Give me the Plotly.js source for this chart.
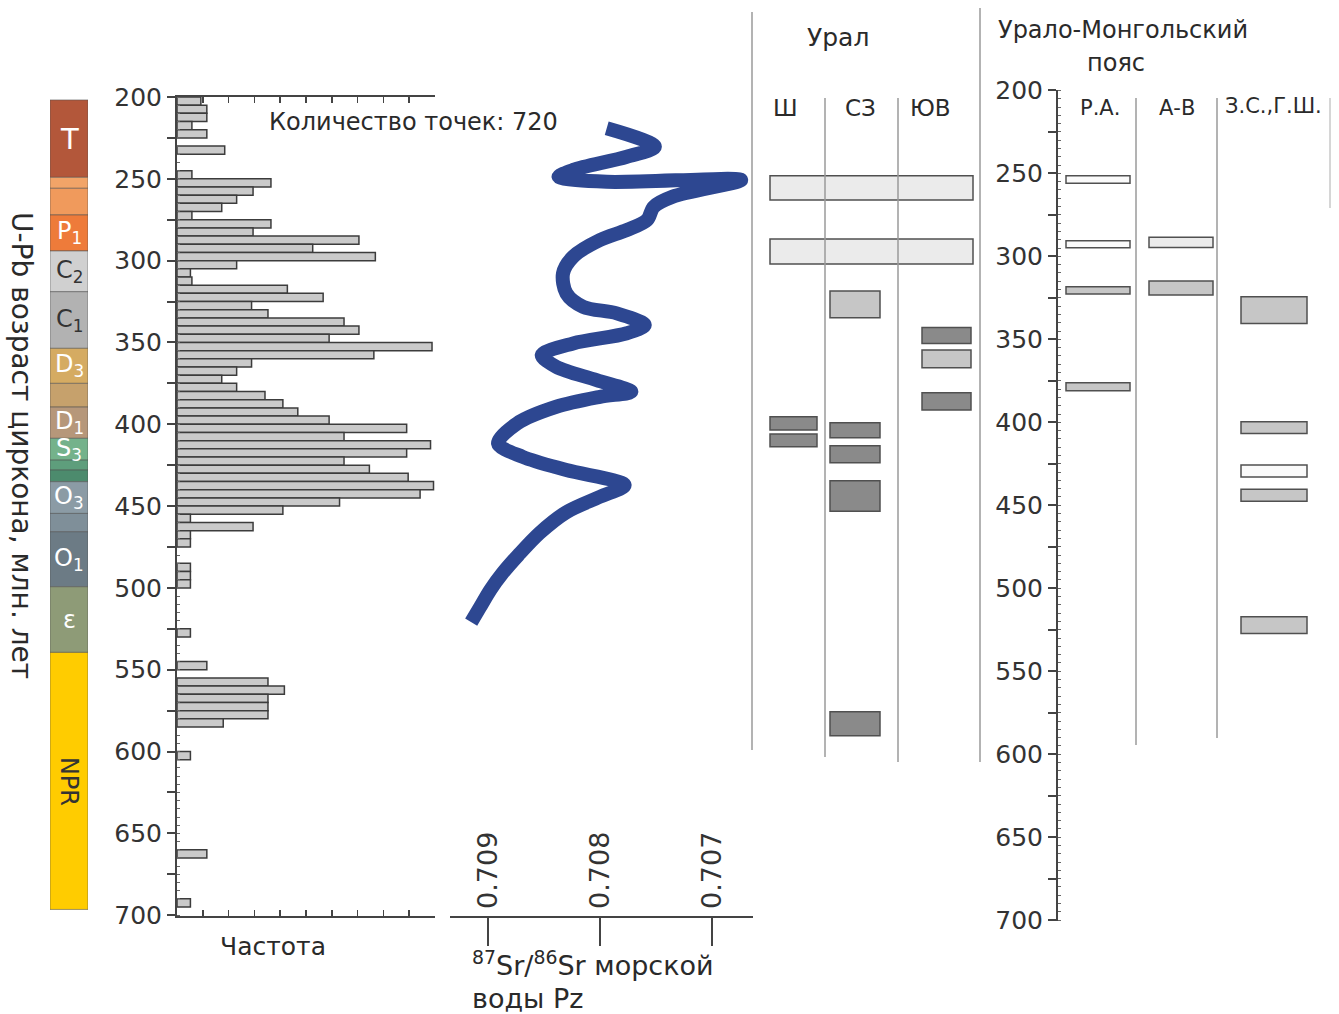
<!DOCTYPE html>
<html><head><meta charset="utf-8">
<script src="https://cdn.plot.ly/plotly-3.0.1.min.js"></script>
<style>html,body{margin:0;padding:0;background:#fff}#chart{width:1339px;height:1014px}</style>
</head><body><div id="chart"></div>
<script>
// ---------- DATA ----------
// Histogram of U-Pb zircon ages (5 Ma bins, bin start age) and frequency
const histAge = [200,205,210,215,220,230,245,250,255,260,265,270,275,280,285,290,295,300,305,310,315,320,325,330,335,340,345,350,355,360,365,370,375,380,385,390,395,400,405,410,415,420,425,430,435,440,445,450,455,460,465,470,485,490,495,525,545,555,560,565,570,575,580,600,660,690];
const histFreq = [1.6,2.0,2.0,1.0,2.0,3.2,1.0,6.3,5.1,4.0,3.0,1.0,6.3,5.1,12.2,9.1,13.3,4.0,0.9,1.0,7.4,9.8,5.0,6.1,11.2,12.2,10.2,17.1,13.2,5.0,4.0,3.0,4.0,5.9,7.1,8.1,10.2,15.4,11.2,17.0,15.4,11.2,12.9,15.5,17.2,16.3,10.9,7.1,0.9,5.1,0.9,0.9,0.9,0.9,0.9,0.9,2.0,6.1,7.2,6.1,6.1,6.1,3.1,0.9,2.0,0.9];
const histBin = 5;
const pointCount = 720;

// Stratigraphic column (age of top / bottom of each band, label)
const stratTop    = [201.8,249.1,255.8,272.1,294.1,319.0,353.6,375.0,389.5,408.6,421.9,428.0,435.1,454.5,465.7,499.3,539.4];
const stratBottom = [249.1,255.8,272.1,294.1,319.0,353.6,375.0,389.5,408.6,421.9,428.0,435.1,454.5,465.7,499.3,539.4,696.5];
const stratLabel  = ['T','','','P<sub>1</sub>','C<sub>2</sub>','C<sub>1</sub>','D<sub>3</sub>','','D<sub>1</sub>','S<sub>3</sub>','','','O<sub>3</sub>','','O<sub>1</sub>','ε','NPR'];

// 87Sr/86Sr seawater curve (age, ratio)
const srAge   = [219.1,230.4,236.5,244.6,248.7,251.8,250.7,260.9,267.1,275.2,281.3,287.4,297.6,307.8,320.0,328.2,332.2,339.4,344.4,350.6,357.7,364.9,373.0,380.1,383.2,389.3,399.5,411.7,419.9,428.0,437.2,444.3,453.7,466.5,480.0,491.0,501.3,511.7,520.9];
const srRatio = [0.70794,0.70751,0.70776,0.70824,0.70837,0.70794,0.70674,0.70735,0.70752,0.70758,0.70776,0.70800,0.70824,0.70833,0.70830,0.70815,0.70785,0.70760,0.70776,0.70824,0.70852,0.70839,0.70803,0.70772,0.70800,0.70839,0.70874,0.70891,0.70869,0.70830,0.70778,0.70800,0.70830,0.70854,0.70873,0.70887,0.70898,0.70907,0.70915];
const srTicks = [0.709,0.708,0.707];

// Ural: columns and age intervals
const uralColumns = ['Ш','СЗ','ЮВ'];
const uralCol  = ['all','all','СЗ','ЮВ','ЮВ','ЮВ','Ш','Ш','СЗ','СЗ','СЗ','СЗ'];
const uralFrom = [248.1,286.8,318.6,340.8,354.6,380.7,395.4,406.0,399.1,413.1,434.5,575.7];
const uralTo   = [263.0,302.0,334.9,350.6,365.5,391.3,403.5,413.7,408.3,423.5,453.1,590.4];
const uralKind = ['light','light','mid','dark','mid','dark','dark','dark','dark','dark','dark','dark'];

// Ural-Mongolian belt
const umColumns = ['Р.А.','А-В','З.С.,Г.Ш.'];
const umCol  = ['Р.А.','Р.А.','Р.А.','Р.А.','А-В','А-В','З.С.,Г.Ш.','З.С.,Г.Ш.','З.С.,Г.Ш.','З.С.,Г.Ш.','З.С.,Г.Ш.'];
const umFrom = [251.4,290.6,318.3,376.2,288.5,314.9,324.4,399.7,425.8,440.4,517.2];
const umTo   = [256.0,294.8,322.7,381.0,294.6,323.3,340.4,406.7,432.9,447.5,527.2];
const umKind = ['white','white','mid','mid','light','mid','mid','mid','white','mid','mid'];

// ---------- STYLE / LAYOUT ----------
const W = 1339, H = 1014;
const px = x => x / W, py = y => 1 - y / H;
const FONT = 'DejaVu Sans, Verdana, sans-serif';
const INK = '#2a2a2a', AX = '#444';
const stratFill = ['#B3573A','#F2A468','#F09A5C','#EE7B3A','#D0D0D0','#B2B2B2','#D5AB62','#C6A16C','#B6977A','#74B28B','#5E9E7C','#4C8B6D','#8B9BA5','#7F8F99','#6C7B85','#8E9B77','#FFCC00'];
const stratDark = {'C<sub>2</sub>':1,'C<sub>1</sub>':1,'NPR':1};
const kindFill = {white:'#FAFAFA', light:'#EBEBEB', mid:'#C6C6C6', dark:'#8A8A8A'};
// column placement (axis units = pixels within panel)
const uralPlace = {'Ш':[41.5,47], 'СЗ':[103,50], 'ЮВ':[194.5,49], 'all':[119.5,203]};
const umPlace = {'Р.А.':[40,64], 'А-В':[123,64], 'З.С.,Г.Ш.':[216,66]};

const traces = [];
// histogram
traces.push({type:'bar', orientation:'h', xaxis:'x', yaxis:'y',
  y: histAge.map(a => a + histBin/2), x: histFreq, width: histBin,
  marker:{color:'#CACACA', line:{color:'#3c3c3c', width:1.5}}, hoverinfo:'x+y'});
// strat column
traces.push({type:'bar', orientation:'h', xaxis:'x2', yaxis:'y',
  y: stratTop.map((t,i) => (t + stratBottom[i]) / 2), x: stratTop.map(() => 1),
  width: stratTop.map((t,i) => stratBottom[i] - t),
  marker:{color: stratFill, line:{color:'rgba(80,80,80,0.55)', width:1}}, hoverinfo:'skip'});
// Sr curve
traces.push({type:'scatter', mode:'lines', xaxis:'x3', yaxis:'y3', x: srRatio, y: srAge,
  line:{color:'#2D4791', width:14, shape:'spline', smoothing:0.9}, hoverinfo:'x+y'});
// Ural boxes
traces.push({type:'bar', xaxis:'x4', yaxis:'y',
  x: uralCol.map(c => uralPlace[c][0]), width: uralCol.map(c => uralPlace[c][1]),
  base: uralFrom, y: uralTo.map((t,i) => t - uralFrom[i]),
  marker:{color: uralKind.map(k => kindFill[k]), line:{color:'#505050', width:1.5}}, hoverinfo:'skip'});
// Ural-Mongolian boxes
traces.push({type:'bar', xaxis:'x5', yaxis:'y2',
  x: umCol.map(c => umPlace[c][0]), width: umCol.map(c => umPlace[c][1]),
  base: umFrom, y: umTo.map((t,i) => t - umFrom[i]),
  marker:{color: umKind.map(k => kindFill[k]), line:{color:'#505050', width:1.5}}, hoverinfo:'skip'});

const ageTickVals = [], ageTickText = [];
for (let a = 200; a <= 700; a += 25) { ageTickVals.push(a); ageTickText.push(a % 50 === 0 ? String(a) : ''); }

const ageAxis = (domain, anchor) => ({
  domain, anchor, range:[700.5,200], autorange:false, showgrid:false, zeroline:false,
  showline:true, linecolor:AX, linewidth:2,
  tickmode:'array', tickvals:ageTickVals, ticktext:ageTickText,
  ticks:'outside', ticklen:8, tickwidth:2, tickcolor:AX,
  tickfont:{family:FONT, size:25, color:'#333'},
  minor:{ticks:'inside', ticklen:3, tickwidth:1, tickcolor:'#666', tickmode:'linear', tick0:200, dtick:5, showgrid:false}
});

const histMax = 17.3;
const layout = {
  width:W, height:H, margin:{l:0,r:0,t:0,b:0,autoexpand:false}, paper_bgcolor:'#fff', plot_bgcolor:'rgba(0,0,0,0)',
  showlegend:false, barmode:'overlay', font:{family:FONT, color:INK},
  yaxis: ageAxis([py(916), py(97)], 'x'),
  yaxis2: ageAxis([py(921), py(90.4)], 'x5'),
  yaxis3:{domain:[py(916), py(97)], anchor:'x3', range:[700.5,200], autorange:false, visible:false},
  xaxis:{domain:[px(177), px(435)], anchor:'y', range:[0, histMax], showgrid:false, zeroline:false,
    showline:true, linecolor:AX, linewidth:2, mirror:'ticks',
    tickmode:'linear', tick0:0, dtick:histMax/10, ticks:'inside', ticklen:6, tickwidth:1.5, tickcolor:AX, showticklabels:false},
  xaxis2:{domain:[px(50), px(88)], anchor:'y', range:[0,1], visible:false, fixedrange:true},
  xaxis3:{domain:[px(450), px(753)], anchor:'y3', range:[0.709339, 0.706634], autorange:false, showgrid:false, zeroline:false,
    showline:true, linecolor:AX, linewidth:2, tickmode:'array', tickvals:srTicks, ticktext:srTicks.map(v => v.toFixed(3)),
    ticks:'outside', ticklen:28, tickwidth:2, tickcolor:AX, ticklabelposition:'inside', tickangle:-90,
    tickfont:{family:FONT, size:27, color:'#333'}},
  xaxis4:{domain:[px(752), px(980)], anchor:'y', range:[0,228], visible:false},
  xaxis5:{domain:[px(1058), px(1330)], anchor:'y2', range:[0,272], visible:false},
  shapes:[], annotations:[]
};

const vline = (x, y0, y1, color, w) => ({type:'line', xref:'paper', yref:'paper', x0:px(x), x1:px(x), y0:py(y0), y1:py(y1),
  line:{color:color||'#9a9a9a', width:w||1.5}, layer:'above'});
layout.shapes.push(vline(752,12,750), vline(825,98,757), vline(898,98,762), vline(980,8,762));
layout.shapes.push(vline(1136,98,745), vline(1217,98,738), vline(1330,98,208,'#d6d6d6',2));

const ann = (text, x, y, size, extra) => Object.assign({text, xref:'paper', yref:'paper', x:px(x), y:py(y),
  xanchor:'center', yanchor:'middle', showarrow:false, font:{family:FONT, size, color:INK}}, extra||{});

layout.annotations.push(ann('Количество точек: ' + pointCount, 267, 122, 24, {xanchor:'left'}));
layout.annotations.push(ann('Частота', 273, 946, 25));
layout.annotations.push(ann('U-Pb возраст циркона, млн. лет', 22, 445, 28, {textangle:90}));
layout.annotations.push(ann('<sup>87</sup>Sr/<sup>86</sup>Sr морской', 470, 963, 27, {xanchor:'left'}));
layout.annotations.push(ann('воды Pz', 470, 998, 27, {xanchor:'left'}));
layout.annotations.push(ann('Урал', 838, 38, 25));
layout.annotations.push(ann(uralColumns[0], 786, 108, 23));
layout.annotations.push(ann(uralColumns[1], 860, 108, 23));
layout.annotations.push(ann(uralColumns[2], 930, 108, 23));
layout.annotations.push(ann('Урало-Монгольский', 996, 30, 24, {xanchor:'left'}));
layout.annotations.push(ann('пояс', 1116, 63, 24));
layout.annotations.push(ann(umColumns[0], 1100, 108, 21));
layout.annotations.push(ann(umColumns[1], 1177, 108, 21));
layout.annotations.push(ann(umColumns[2], 1273, 106, 21));

// strat labels
stratLabel.forEach((lab, i) => {
  if (!lab) return;
  const dark = stratDark[lab];
  layout.annotations.push({text: lab, xref:'x2', yref:'y', x:0.5, y:(stratTop[i] + stratBottom[i]) / 2,
    xanchor:'center', yanchor:'middle', showarrow:false, textangle: lab === 'NPR' ? 90 : 0,
    font:{family:FONT, size: lab === 'T' ? 29 : 24, color: dark ? '#333' : '#fff'}});
});

Plotly.newPlot('chart', traces, layout, {displayModeBar:false, staticPlot:true});
</script></body></html>
